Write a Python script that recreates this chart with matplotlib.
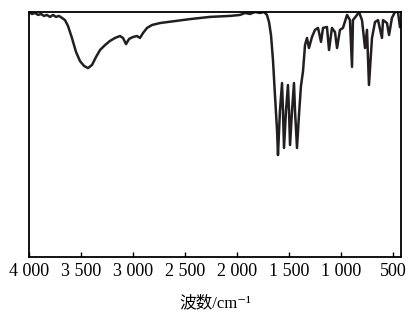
import matplotlib
matplotlib.use("Agg")
import matplotlib.pyplot as plt

plt.rcParams['font.family'] = ['Liberation Serif', 'Noto Sans CJK SC', 'DejaVu Serif']

# IR spectrum (wavenumber cm^-1, transmittance %)
wavenumber = [4000, 3971, 3942, 3913, 3885, 3856, 3827, 3798, 3769, 3740, 3712, 3683,
              3654, 3625, 3587, 3548, 3510, 3471, 3433, 3394, 3356, 3317, 3269, 3221,
              3173, 3125, 3096, 3067, 3038, 3000, 2962, 2933, 2904, 2865, 2817, 2740,
              2596, 2452, 2260, 2067, 1971, 1923, 1875, 1827, 1779, 1740, 1712, 1692,
              1673, 1654, 1635, 1615, 1606, 1587, 1567, 1558, 1548, 1529, 1510, 1500,
              1490, 1471, 1452, 1442, 1423, 1404, 1385, 1365, 1346, 1327, 1308, 1279,
              1250, 1221, 1192, 1173, 1135, 1115, 1087, 1058, 1038, 1010, 981, 942,
              914, 894, 885, 846, 827, 798, 769, 750, 731, 702, 673, 644,
              606, 596, 558, 538, 510, 481, 452, 433]
transmittance = [100, 99.2, 99.6, 98.8, 99.2, 98.4, 98.8, 98.0, 98.8, 98.0, 98.4, 97.6,
                 96.7, 94.3, 89.4, 83.7, 80.0, 78.0, 77.1, 78.4, 81.6, 84.5, 86.5, 88.2,
                 89.4, 90.2, 89.4, 86.9, 89.0, 89.8, 90.2, 89.4, 91.4, 93.5, 94.7, 95.5,
                 96.3, 97.1, 98.0, 98.4, 98.8, 99.6, 99.2, 100, 99.6, 100, 98.8, 95.9,
                 90.6, 80.4, 66.1, 51.8, 41.6, 59.6, 71.0, 59.6, 44.5, 59.6, 70.2, 59.6,
                 45.7, 59.6, 71.0, 59.6, 44.5, 58.0, 69.8, 75.9, 86.5, 89.4, 85.3, 89.8,
                 92.7, 93.5, 87.8, 93.5, 93.9, 84.5, 93.5, 91.8, 85.3, 92.7, 93.5, 98.8,
                 96.7, 77.6, 96.7, 98.8, 100, 96.7, 85.3, 92.7, 70.2, 89.4, 95.9, 96.7,
                 89.4, 96.7, 95.5, 90.6, 97.6, 100, 100, 93.9]
xticks = [4000, 3500, 3000, 2500, 2000, 1500, 1000, 500]
xticklabels = ['4 000', '3 500', '3 000', '2 500', '2 000', '1 500', '1 000', '500']

fig = plt.figure(figsize=(4.09, 3.21), dpi=100)
ax = fig.add_axes([29/409, 1 - 257/321, 372/409, 245/321])
ax.plot(wavenumber, transmittance, color='#231f20', lw=1.8)
ax.set_xlim(4000, 423)
ax.set_ylim(0, 100)
ax.set_xticks(xticks)
ax.set_xticklabels(xticklabels, fontsize=13)
ax.set_yticks([])
ax.tick_params(axis='x', direction='in', length=3.5, width=1.0, pad=4)
for s in ax.spines.values():
    s.set_linewidth(1.3)
ax.set_xlabel('波数/cm⁻¹', fontsize=12, labelpad=11)

fig.savefig('out.png', dpi=100)
